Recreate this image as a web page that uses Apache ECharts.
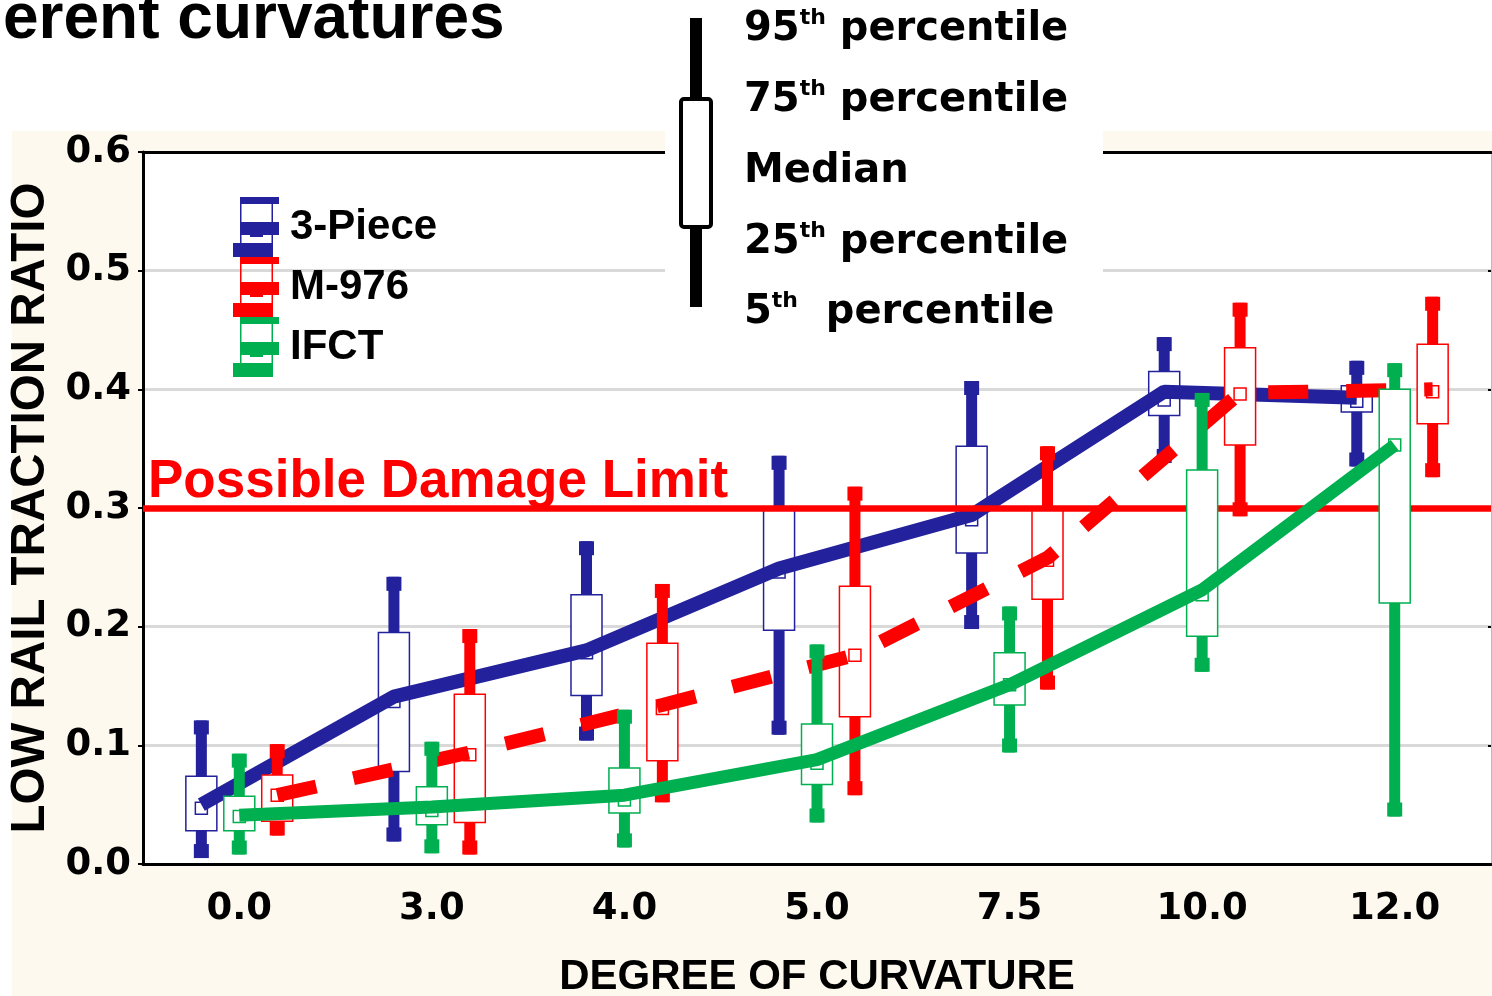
<!DOCTYPE html>
<html><head><meta charset="utf-8">
<script src="https://cdn.jsdelivr.net/npm/echarts@6/dist/echarts.min.js"></script>
<style>html,body{margin:0;padding:0;background:#fff}#c{width:1492px;height:996px}</style>
</head><body><div id="c"></div>
<script>
// ---- data ----
const categories = ['0.0', '3.0', '4.0', '5.0', '7.5', '10.0', '12.0'];
const seriesNames = ['3-Piece', 'M-976', 'IFCT'];

const piece3P5  = [0.005, 0.019, 0.104, 0.109, 0.198, 0.338, 0.335];
const piece3P25 = [0.028, 0.078, 0.142, 0.197, 0.262, 0.378, 0.381];
const piece3Med = [0.047, 0.137, 0.178, 0.246, 0.290, 0.391, 0.390];
const piece3P75 = [0.074, 0.195, 0.227, 0.300, 0.352, 0.415, 0.403];
const piece3P95 = [0.121, 0.242, 0.272, 0.344, 0.407, 0.444, 0.424];
const piece3Trend = [0.050, 0.141, 0.180, 0.249, 0.294, 0.398, 0.393];

const m976P5  = [0.024, 0.008, 0.052, 0.058, 0.147, 0.293, 0.326];
const m976P25 = [0.036, 0.035, 0.087, 0.124, 0.223, 0.353, 0.371];
const m976Med = [0.058, 0.092, 0.131, 0.176, 0.256, 0.396, 0.398];
const m976P75 = [0.075, 0.143, 0.186, 0.234, 0.298, 0.435, 0.438];
const m976P95 = [0.101, 0.198, 0.236, 0.318, 0.352, 0.473, 0.478];
const m976Trend = [0.058, 0.094, 0.134, 0.176, 0.258, 0.397, 0.400];

const ifctP5  = [0.008, 0.009, 0.014, 0.035, 0.094, 0.162, 0.040];
const ifctP25 = [0.028, 0.033, 0.043, 0.067, 0.134, 0.192, 0.220];
const ifctMed = [0.040, 0.045, 0.054, 0.085, 0.151, 0.227, 0.353];
const ifctP75 = [0.057, 0.065, 0.081, 0.118, 0.178, 0.332, 0.400];
const ifctP95 = [0.093, 0.103, 0.130, 0.185, 0.217, 0.397, 0.422];
const ifctTrend = [0.041, 0.048, 0.058, 0.088, 0.151, 0.231, 0.353];

const damageLimit = 0.3;
const yMin = 0, yMax = 0.6, yStep = 0.1;

// ---- style ----
const BLUE = '#23219B', RED = '#FF0000', GREEN = '#00AF4F';
const GROUP_OFFSET = 0.197; // fraction of a category between box groups

function rows(p5, p25, med, p75, p95) {
  return categories.map((c, i) => [i, p5[i], p25[i], med[i], p75[i], p95[i]]);
}
function boxRender(offset, color) {
  return function (params, api) {
    const x = api.value(0) + offset;
    const pt = [1, 2, 3, 4, 5].map(k => api.coord([x, api.value(k)]));
    const cx = pt[0][0];
    const y5 = pt[0][1], y25 = pt[1][1], ym = pt[2][1], y75 = pt[3][1], y95 = pt[4][1];
    return {
      type: 'group',
      children: [
        { type: 'rect', shape: { x: cx - 5.5, y: y95, width: 11, height: y5 - y95 }, style: { fill: color } },
        { type: 'rect', shape: { x: cx - 7.5, y: y95, width: 15, height: 14 }, style: { fill: color } },
        { type: 'rect', shape: { x: cx - 7.5, y: y5 - 14, width: 15, height: 14 }, style: { fill: color } },
        { type: 'rect', shape: { x: cx - 15.5, y: y75, width: 31, height: y25 - y75 }, style: { fill: '#fff', stroke: color, lineWidth: 1.5 } },
        { type: 'rect', shape: { x: cx - 6, y: ym - 6, width: 12, height: 12 }, style: { fill: '#fff', stroke: color, lineWidth: 1.5 } }
      ]
    };
  };
}
function trendData(vals, offset) { return vals.map((v, i) => [i + offset, v]); }

const legendIcon = 'path://M7 0L40 0L40 53L7 53Z M8.5 1.5L8.5 51.5L38.5 51.5L38.5 1.5Z M7 0L46 0L46 7L7 7Z M7 25L46 25L46 38L7 38Z M17 37L30 37L30 40L17 40Z M0 46L40 46L40 60L0 60Z';

const tickFont = { fontFamily: 'DejaVu Sans', fontWeight: 'bold', fontSize: 37, color: '#000' };
const keyRich = {
  b: { fontFamily: 'DejaVu Sans', fontWeight: 'bold', fontSize: 40, color: '#000', lineHeight: 46 },
  s: { fontFamily: 'DejaVu Sans', fontWeight: 'bold', fontSize: 22, color: '#000', verticalAlign: 'top', lineHeight: 46 }
};
const keyLines = ['{b|95}{s|th}{b| percentile}', '{b|75}{s|th}{b| percentile}', '{b|Median}', '{b|25}{s|th}{b| percentile}', '{b|5}{s|th}{b|  percentile}'];
const keyY = [30, 101, 172, 243, 313];

const chart = echarts.init(document.getElementById('c'), null, { renderer: 'canvas' });
chart.setOption({
  animation: false,
  backgroundColor: '#fff',
  grid: { left: 143, right: 1, top: 152, bottom: 132, show: true, backgroundColor: '#fff', borderWidth: 0,
    containLabel: false, outerBoundsMode: 'none' },
  legend: {
    data: seriesNames, orient: 'vertical', left: 233, top: 197, itemWidth: 46, itemHeight: 60, itemGap: 0,
    icon: legendIcon, selectedMode: false, padding: 0,
    textStyle: { fontFamily: 'Liberation Sans', fontWeight: 'bold', fontSize: 42, color: '#000', padding: [0, 0, 0, 6] }
  },
  xAxis: [
    {
      type: 'category', data: categories, position: 'bottom', boundaryGap: true,
      axisLine: { onZero: false, lineStyle: { color: '#000', width: 3 } },
      axisTick: { alignWithLabel: true, length: 5, lineStyle: { color: '#000', width: 2 } },
      axisLabel: Object.assign({ margin: 27 }, tickFont),
      splitLine: { show: false },
      name: 'DEGREE OF CURVATURE', nameLocation: 'middle', nameGap: 92,
      nameTextStyle: { fontFamily: 'Liberation Sans', fontWeight: 'bold', fontSize: 42, color: '#000' }
    },
    {
      type: 'category', data: categories, position: 'top', boundaryGap: true,
      axisLine: { onZero: false, lineStyle: { color: '#000', width: 3 } },
      axisTick: { alignWithLabel: true, inside: true, length: 5, lineStyle: { color: '#000', width: 2 } },
      axisLabel: { show: false }, splitLine: { show: false }
    },
    { type: 'value', min: -0.5, max: categories.length - 0.5, show: false }
  ],
  yAxis: [
    {
      type: 'value', min: yMin, max: yMax, interval: yStep,
      axisLine: { show: true, onZero: false, lineStyle: { color: '#000', width: 3 } },
      axisTick: { show: true, length: 5, lineStyle: { color: '#000', width: 2 } },
      axisLabel: Object.assign({ margin: 12, formatter: v => v.toFixed(1) }, tickFont),
      splitLine: { show: true, lineStyle: { color: '#D9D9D9', width: 3 } },
      name: 'LOW RAIL TRACTION RATIO', nameLocation: 'middle', nameGap: 86, nameRotate: 90,
      nameTextStyle: { fontFamily: 'Liberation Sans', fontWeight: 'bold', fontSize: 47.5, color: '#000' }
    },
    {
      type: 'value', min: yMin, max: yMax, interval: yStep, position: 'right',
      axisLine: { show: true, onZero: false, lineStyle: { color: '#BBBBBB', width: 1 } },
      axisTick: { show: true, inside: true, length: 3, lineStyle: { color: '#000', width: 2 } },
      axisLabel: { show: false }, splitLine: { show: false }
    }
  ],
  series: [
    { name: '3-Piece', type: 'custom', xAxisIndex: 2, yAxisIndex: 0, z: 2, itemStyle: { color: BLUE },
      renderItem: boxRender(-GROUP_OFFSET, BLUE), encode: { x: 0, y: [1, 2, 3, 4, 5] },
      data: rows(piece3P5, piece3P25, piece3Med, piece3P75, piece3P95) },
    { name: 'M-976', type: 'custom', xAxisIndex: 2, yAxisIndex: 0, z: 4, itemStyle: { color: RED },
      renderItem: boxRender(GROUP_OFFSET, RED), encode: { x: 0, y: [1, 2, 3, 4, 5] },
      data: rows(m976P5, m976P25, m976Med, m976P75, m976P95) },
    { name: 'IFCT', type: 'custom', xAxisIndex: 2, yAxisIndex: 0, z: 6, itemStyle: { color: GREEN },
      renderItem: boxRender(0, GREEN), encode: { x: 0, y: [1, 2, 3, 4, 5] },
      data: rows(ifctP5, ifctP25, ifctMed, ifctP75, ifctP95) },
    { name: '3-Piece', type: 'line', xAxisIndex: 2, yAxisIndex: 0, z: 3, symbol: 'none',
      lineStyle: { color: BLUE, width: 14 }, itemStyle: { color: BLUE },
      data: trendData(piece3Trend, -GROUP_OFFSET) },
    { name: 'M-976', type: 'line', xAxisIndex: 2, yAxisIndex: 0, z: 5, symbol: 'none',
      lineStyle: { color: RED, width: 14, type: [40, 38], cap: 'butt' }, itemStyle: { color: RED },
      data: trendData(m976Trend, GROUP_OFFSET) },
    { name: 'IFCT', type: 'line', xAxisIndex: 2, yAxisIndex: 0, z: 7, symbol: 'none',
      lineStyle: { color: GREEN, width: 13 }, itemStyle: { color: GREEN },
      data: trendData(ifctTrend, 0),
      markLine: {
        silent: true, symbol: ['none', 'none'], animation: false,
        lineStyle: { color: RED, width: 6.5, type: 'solid' },
        label: { show: true, position: 'insideStartTop', formatter: 'Possible Damage Limit', color: RED,
          fontFamily: 'Liberation Sans', fontWeight: 'bold', fontSize: 53, distance: [5, -1] },
        data: [{ yAxis: damageLimit }]
      } }
  ],
  graphic: [
    { type: 'rect', z: -100, silent: true, shape: { x: 12, y: 131, width: 1480, height: 865 }, style: { fill: '#FEF9EE' } },
    { type: 'rect', z: 100, silent: true, shape: { x: 665, y: 128, width: 438, height: 146 }, style: { fill: '#fff' } },
    { type: 'rect', z: 101, silent: true, shape: { x: 690, y: 18, width: 12, height: 289 }, style: { fill: '#000' } },
    { type: 'rect', z: 102, silent: true, shape: { x: 681, y: 99, width: 30, height: 128, r: 3 }, style: { fill: '#fff', stroke: '#000', lineWidth: 4 } },
    { type: 'text', z: 102, silent: true, x: 3, y: 20,
      style: { text: 'erent curvatures', font: 'bold 64px "Liberation Sans"', fill: '#000', verticalAlign: 'middle' } }
  ].concat(keyLines.map((t, i) => ({
    type: 'text', z: 103, silent: true, x: 744, y: keyY[i],
    style: { text: t, rich: keyRich, verticalAlign: 'middle', fill: '#000' }
  })))
});
</script>
</body></html>
